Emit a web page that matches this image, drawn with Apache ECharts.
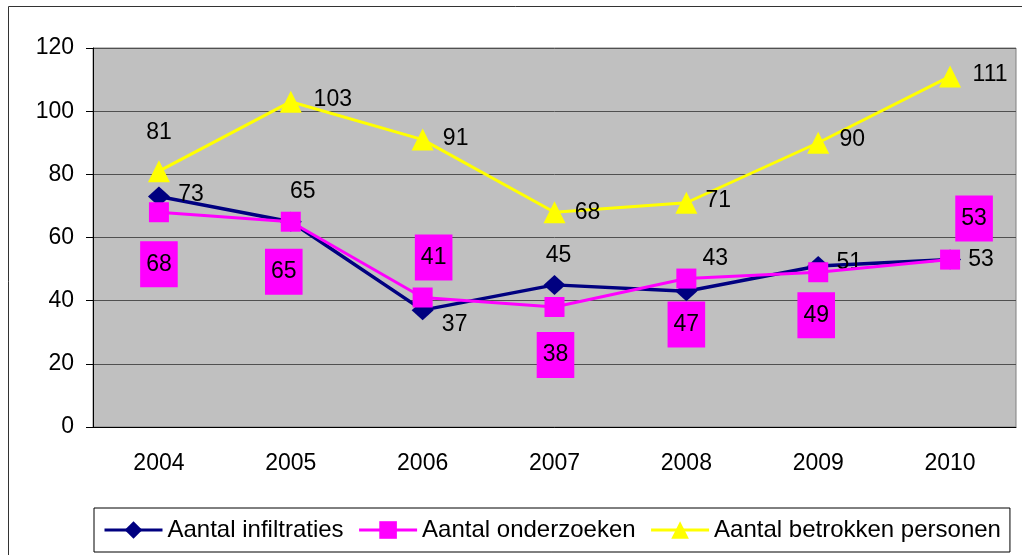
<!DOCTYPE html>
<html>
<head>
<meta charset="UTF-8">
<title>Aantal infiltraties</title>
<script src="https://cdn.jsdelivr.net/npm/echarts@6/dist/echarts.min.js"></script>
<style>
  body { margin: 0; background: #fff; }
  #chart { width: 1022px; height: 555px; }
</style>
</head>
<body>
<div id="chart"></div>
<script>
// data
var years = ['2004', '2005', '2006', '2007', '2008', '2009', '2010'];
var infiltraties = [73, 65, 37, 45, 43, 51, 53];
var onderzoeken = [68, 65, 41, 38, 47, 49, 53];
var betrokken = [81, 103, 91, 68, 71, 90, 111];

// where each value label sits, relative to its point (pixels)
var offInfil = [[32, -2], [12, -30], [32, 15], [4, -29], [29, -33], [31, -3], [31, 0]];
var offOnder = [[0, 52], [-7, 50], [11, -40], [1, 48], [0, 46], [-2, 43], [24, -41]];
var offBetr = [[0, -39], [42, -2], [33, -1], [33, 0], [32, -2], [34, -3], [40, -2]];

var font = 'Liberation Sans, Arial, sans-serif';
var fs = 23;

function withLabels(values, offsets) {
  return values.map(function (v, i) {
    return { value: v, label: { offset: offsets[i] } };
  });
}

var chart = echarts.init(document.getElementById('chart'));
chart.setOption({
  animation: false,
  backgroundColor: '#fff',
  textStyle: { fontFamily: font },
  graphic: [{
    type: 'rect',
    shape: { x: 8.5, y: 6.5, width: 1100, height: 700 },
    style: { fill: 'none', stroke: '#333', lineWidth: 1 },
    silent: true
  }],
  grid: {
    left: 93, right: 6, top: 48, bottom: 128,
    show: true,
    backgroundColor: '#c0c0c0',
    borderColor: '#808080',
    borderWidth: 1
  },
  legend: {
    left: 94, top: 508,
    padding: [10, 9, 10, 9],
    itemGap: 14,
    itemWidth: 58,
    itemHeight: 22,
    borderColor: '#000',
    borderWidth: 1,
    lineStyle: { width: 3 },
    textStyle: { fontSize: 24, color: '#000', fontFamily: font }
  },
  xAxis: {
    type: 'category',
    data: years,
    boundaryGap: true,
    axisLine: { lineStyle: { color: '#000', width: 1 } },
    axisTick: { length: 7, lineStyle: { color: '#000' } },
    axisLabel: { fontSize: fs, color: '#000', margin: 25, fontFamily: font },
    splitLine: { show: false }
  },
  yAxis: {
    type: 'value',
    min: 0, max: 120, interval: 20,
    axisLine: { show: true, lineStyle: { color: '#000', width: 1 } },
    axisTick: { show: true, length: 7, lineStyle: { color: '#000' } },
    axisLabel: { fontSize: fs, color: '#000', margin: 19, fontFamily: font },
    splitLine: { lineStyle: { color: '#505050', width: 1 } }
  },
  series: [{
    name: 'Aantal infiltraties',
    type: 'line',
    data: withLabels(infiltraties, offInfil),
    symbol: 'diamond',
    symbolSize: [22, 20],
    itemStyle: { color: '#000080' },
    lineStyle: { color: '#000080', width: 3.5 },
    label: {
      show: true, position: 'inside',
      fontSize: fs, color: '#000', fontFamily: font
    },
    z: 3
  }, {
    name: 'Aantal onderzoeken',
    type: 'line',
    data: withLabels(onderzoeken, offOnder),
    symbol: 'rect',
    symbolSize: 20,
    itemStyle: { color: '#ff00ff' },
    lineStyle: { color: '#ff00ff', width: 3 },
    label: {
      show: true, position: 'inside',
      fontSize: fs, color: '#000', fontFamily: font,
      backgroundColor: '#ff00ff',
      lineHeight: 22,
      padding: [12, 6]
    },
    z: 4
  }, {
    name: 'Aantal betrokken personen',
    type: 'line',
    data: withLabels(betrokken, offBetr),
    symbol: 'triangle',
    symbolSize: 22,
    itemStyle: { color: '#ffff00' },
    lineStyle: { color: '#ffff00', width: 3 },
    label: {
      show: true, position: 'inside',
      fontSize: fs, color: '#000', fontFamily: font
    },
    z: 2
  }]
});
</script>
</body>
</html>
